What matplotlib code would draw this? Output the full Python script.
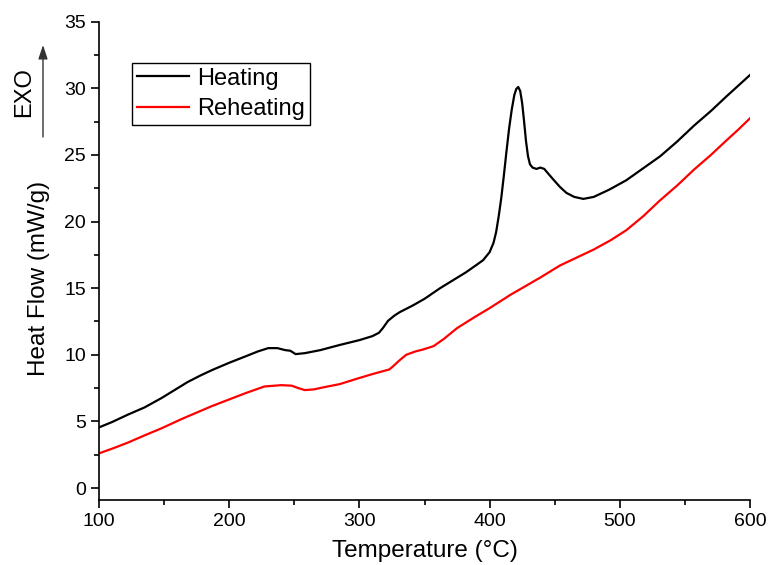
import matplotlib
matplotlib.use('Agg')
import matplotlib.pyplot as plt
from matplotlib.ticker import MultipleLocator

plt.rcParams['font.family'] = ['Liberation Sans', 'DejaVu Sans']

# heating run (black)
temp_heat = [100, 110, 122, 135, 148, 158, 168, 178, 187, 200, 212, 222, 230, 237, 243, 247,
             251, 258, 270, 285, 300, 310, 315, 318, 322, 327, 331, 341, 350, 362, 372, 382,
             390, 395, 400, 403, 405, 407, 409, 411, 413, 415, 417, 419, 420.5, 422, 423.5,
             425, 426.5, 428, 429.5, 431, 433, 436, 439, 442, 445, 449, 454, 459, 465, 472,
             480, 492, 505, 518, 531, 544, 557, 570, 582, 591, 600]
flow_heat = [4.55, 4.95, 5.5, 6.05, 6.75, 7.35, 7.95, 8.45, 8.86, 9.4, 9.86, 10.25, 10.5, 10.5,
             10.35, 10.3, 10.05, 10.12, 10.35, 10.74, 11.1, 11.4, 11.65, 12.0, 12.55, 12.95,
             13.2, 13.7, 14.2, 15.0, 15.6, 16.2, 16.75, 17.1, 17.7, 18.4, 19.2, 20.4, 21.8,
             23.5, 25.3, 27.0, 28.4, 29.5, 29.95, 30.1, 29.8, 28.9, 27.5, 26.0, 24.9, 24.3,
             24.05, 23.95, 24.05, 23.95, 23.6, 23.15, 22.6, 22.15, 21.85, 21.7, 21.85, 22.4,
             23.1, 24.0, 24.9, 26.0, 27.2, 28.3, 29.4, 30.2, 31.0]

# reheating run (red)
temp_reheat = [100, 110, 122, 135, 148, 164, 187, 212, 227, 240, 248, 253, 258, 265, 272,
               285, 298, 310, 323, 326, 331, 336, 343, 349, 357, 365, 375, 388, 400, 416,
               439, 454, 467, 480, 493, 505, 518, 531, 544, 557, 570, 582, 591, 600]
flow_reheat = [2.6, 2.95, 3.4, 3.95, 4.48, 5.2, 6.16, 7.1, 7.62, 7.72, 7.68, 7.5, 7.35, 7.4,
               7.55, 7.8, 8.2, 8.55, 8.9, 9.15, 9.6, 10.0, 10.25, 10.4, 10.65, 11.2, 12.0,
               12.8, 13.5, 14.5, 15.8, 16.7, 17.3, 17.9, 18.6, 19.35, 20.4, 21.6, 22.7, 23.9,
               25.0, 26.1, 26.9, 27.75]

W, H = 769, 565
fig = plt.figure(figsize=(W / 100, H / 100), dpi=100)
ax = fig.add_axes([99 / W, 1 - 500 / H, (750 - 99) / W, (500 - 21.7) / H])

ax.plot(temp_heat, flow_heat, color='black', lw=1.6, label='Heating')
ax.plot(temp_reheat, flow_reheat, color='red', lw=1.6, label='Reheating')

ax.set_xlim(100, 600)
ax.set_ylim(-0.9, 35)
ax.xaxis.set_major_locator(MultipleLocator(100))
ax.xaxis.set_minor_locator(MultipleLocator(50))
ax.yaxis.set_major_locator(MultipleLocator(5))
ax.yaxis.set_minor_locator(MultipleLocator(2.5))
ax.spines['top'].set_visible(False)
ax.spines['right'].set_visible(False)
for s in ['left', 'bottom']:
    ax.spines[s].set_linewidth(1.2)
ax.tick_params(which='major', direction='out', length=6, width=1.2, labelsize=14)
ax.tick_params(which='minor', direction='out', length=3.5, width=1.2)

ax.set_xlabel('Temperature (°C)', fontsize=17.5, labelpad=7)
fig.text(39 / W, 1 - 278 / H, 'Heat Flow (mW/g)', rotation=90, fontsize=17.5,
         ha='center', va='center')

# EXO arrow
fig.text(24 / W, 1 - 92 / H, 'EXO', rotation=90, fontsize=17, ha='center', va='center')
ax.annotate('', xy=(43 / W, 1 - 45 / H), xytext=(43 / W, 1 - 137 / H),
            xycoords='figure fraction', textcoords='figure fraction',
            arrowprops=dict(arrowstyle='-|>,head_length=0.6,head_width=0.2', color='#333333',
                            lw=1.0, mutation_scale=14, shrinkA=0, shrinkB=0))

leg = ax.legend(loc='upper left', bbox_to_anchor=(132 / W, 1 - 63 / H),
                bbox_transform=fig.transFigure, fontsize=17, frameon=True,
                fancybox=False, edgecolor='black', framealpha=1, borderaxespad=0,
                handlelength=2.2, handletextpad=0.35, labelspacing=0.35, borderpad=0.2)
leg.get_frame().set_linewidth(1.0)

fig.savefig('out.png', dpi=100)
